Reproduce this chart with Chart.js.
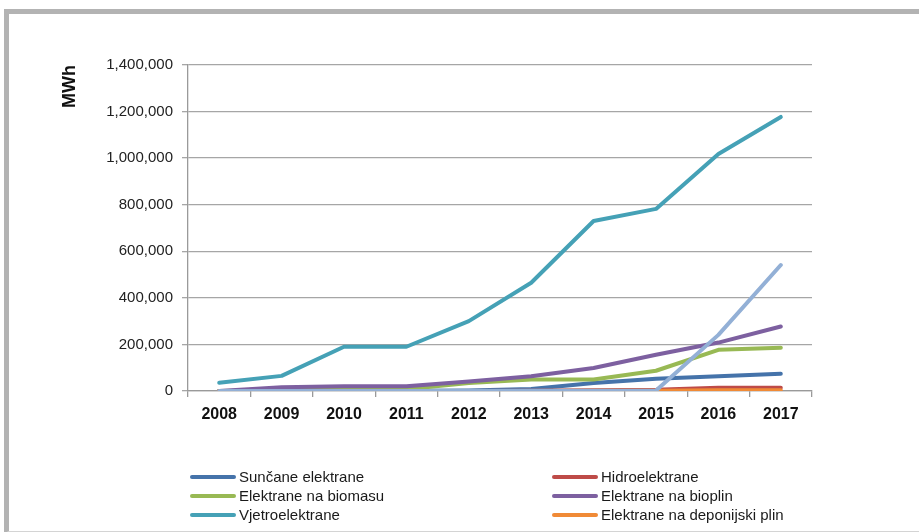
<!DOCTYPE html>
<html>
<head>
<meta charset="utf-8">
<script src="https://cdn.jsdelivr.net/npm/chart.js@4.4.1/dist/chart.umd.min.js"></script>
<style>
  html, body { margin: 0; padding: 0; background: #ffffff; }
  body { width: 919px; height: 532px; position: relative; overflow: hidden; font-family: "Liberation Sans", Arial, sans-serif; }
  #frame { position: absolute; left: 4px; top: 9px; width: 940px; height: 517px;
           border-left: 5px solid #b3b3b3; border-top: 5px solid #b3b3b3; border-bottom: 2px solid #d4d4d4; }
  #wrap { position: absolute; left: 0; top: 0; width: 919px; height: 460px; }
  #legend { position: absolute; left: 0; top: 0; width: 919px; height: 532px; pointer-events: none; }
  .item { position: absolute; display: flex; align-items: center; font-size: 15px; color: #1a1a1a; white-space: nowrap; }
  .swatch { width: 46px; height: 4px; border-radius: 2px; margin-right: 3px; }
</style>
</head>
<body>
<div id="frame"></div>
<div id="wrap"><canvas id="c" width="919" height="460"></canvas></div>
<div id="legend"></div>
<script>
const years = ["2008","2009","2010","2011","2012","2013","2014","2015","2016","2017"];
const suncane     = [0, 500, 1000, 1500, 2500, 9000, 34000, 53000, 63000, 74000];
const hidro       = [0, 0, 0, 0, 500, 1500, 3000, 5000, 14000, 14000];
const biomasa     = [0, 3000, 5000, 8000, 34000, 49000, 49000, 87000, 177000, 186000];
const bioplin     = [0, 16000, 20000, 20000, 41000, 63000, 99000, 156000, 208000, 277000];
const vjetro      = [35000, 65000, 190000, 190000, 300000, 465000, 730000, 782000, 1018000, 1177000];
const deponijski  = [0, 0, 0, 0, 0, 500, 1000, 1500, 3000, 3000];
const ostalo      = [0, 0, 0, 0, 0, 1000, 1500, 2000, 241000, 541000];
const yTicks = [0, 200000, 400000, 600000, 800000, 1000000, 1200000, 1400000];

const names  = ["Sunčane elektrane", "Hidroelektrane", "Elektrane na biomasu", "Elektrane na bioplin", "Vjetroelektrane", "Elektrane na deponijski plin", "Ostalo"];
const colors = ["#4573aa", "#be4b48", "#98b954", "#7d60a0", "#45a1b6", "#f08a36", "#93b0d6"];
const series = [suncane, hidro, biomasa, bioplin, vjetro, deponijski, ostalo];
const inLegend = [true, true, true, true, true, true, false];

const datasets = series.map((d, i) => ({
  label: names[i],
  data: d,
  borderColor: colors[i],
  backgroundColor: colors[i],
  borderWidth: 4,
  pointRadius: 0,
  tension: 0,
  fill: false,
  borderCapStyle: 'round',
  borderJoinStyle: 'round',
  order: 10 - i
}));

new Chart(document.getElementById('c'), {
  type: 'line',
  data: { labels: years, datasets: datasets },
  options: {
    responsive: false,
    animation: false,
    devicePixelRatio: 1,
    layout: { padding: { left: 0, right: 107, top: 65, bottom: 0 } },
    plugins: { legend: { display: false }, tooltip: { enabled: false } },
    scales: {
      x: {
        type: 'category',
        offset: true,
        grid: { display: true, drawOnChartArea: false, offset: true, color: '#9a9a9a', lineWidth: 1.3, tickLength: 6 },
        border: { display: true, color: '#9a9a9a', width: 1.3 },
        ticks: { color: '#111', font: { family: "Liberation Sans", size: 16, weight: 'bold' }, padding: 8, maxRotation: 0 },
        afterFit: (s) => { s.height = 69; }
      },
      y: {
        min: 0, max: 1400000,
        afterBuildTicks: (s) => { s.ticks = yTicks.map(v => ({ value: v })); },
        grid: { color: '#a6a6a6', lineWidth: 1.3, tickLength: 6, drawTicks: true },
        border: { display: true, color: '#9a9a9a', width: 1.3 },
        ticks: {
          color: '#222', font: { family: "Liberation Sans", size: 15 }, padding: 9,
          callback: (v) => Number(v).toLocaleString('en-US')
        },
        title: { display: true, text: 'MWh', align: 'end', color: '#111',
                 font: { family: "Liberation Sans", size: 18, weight: 'bold' }, padding: { top: 59, bottom: 0 } },
        afterFit: (s) => { s.width = 188; }
      }
    }
  }
});

// HTML legend (two columns)
const legend = document.getElementById('legend');
const colX = [190, 552];
const rowY = [468, 487, 506];
let k = 0;
names.forEach((n, i) => {
  if (!inLegend[i]) return;
  const col = k % 2, row = Math.floor(k / 2);
  const el = document.createElement('div');
  el.className = 'item';
  el.style.left = colX[col] + 'px';
  el.style.top = rowY[row] + 'px';
  el.innerHTML = '<span class="swatch" style="background:' + colors[i] + '"></span><span>' + n + '</span>';
  legend.appendChild(el);
  k++;
});
</script>
</body>
</html>
